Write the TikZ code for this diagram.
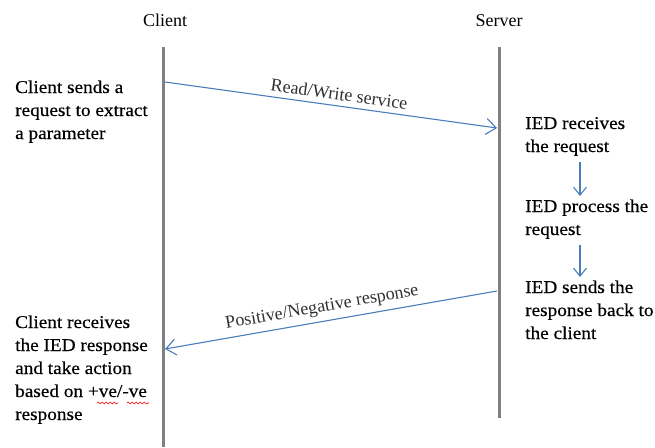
\documentclass[tikz,border=0pt]{standalone}
\usepackage{fontspec}
\setmainfont{Liberation Serif}
\newfontfamily\bodyfont[FakeStretch=1.07,FakeBold=0.4]{Liberation Serif}
\usetikzlibrary{arrows.meta,decorations.pathmorphing}
\definecolor{msgblue}{HTML}{4A7EBB}
\definecolor{lifegray}{HTML}{808080}
\definecolor{labelgray}{HTML}{303030}
\begin{document}
\begin{tikzpicture}[x=1pt,y=-1pt,
  lifeline/.style={draw=lifegray,line width=3pt},
  msg/.style={draw=msgblue,line width=1.1pt,-{Straight Barb[length=10pt,width=16pt,line width=1.1pt]}},
  stepflow/.style={draw=msgblue,line width=1.1pt,-{Straight Barb[length=8pt,width=13pt,line width=1.1pt]}},
  head/.style={anchor=base,inner sep=0pt,font=\fontsize{18}{22}\selectfont},
  body/.style={anchor=base west,align=left,inner sep=0pt,font=\bodyfont\fontsize{18}{23}\selectfont},
  msglabel/.style={sloped,above=5pt,inner sep=0pt,text=labelgray,font=\fontsize{18}{22}\selectfont},
  squiggle/.style={draw=red,line width=0.6pt,decorate,decoration={snake,amplitude=1pt,segment length=4pt}}]
\useasboundingbox (0,0) rectangle (655,447);
% headers
\node[head] (client) at (165,26) {Client};
\node[head] (server) at (499,26) {Server};
% lifelines
\coordinate (ctop) at (163,47);
\coordinate (cbot) at (163,447);
\coordinate (stop) at (499,47);
\coordinate (sbot) at (499,418);
\draw[lifeline] (ctop) -- (cbot);
\draw[lifeline] (stop) -- (sbot);
% messages
\coordinate (c1) at (165,82);
\coordinate (s1) at (497,128);
\coordinate (s2) at (497,291);
\coordinate (c2) at (165,349);
\draw[msg] (c1) -- node[msglabel,pos=0.52] (lab1) {Read/Write service} (s1);
\draw[msg] (s2) -- node[msglabel,pos=0.52] (lab2) {Positive/Negative response} (c2);
% left texts (anchored at the baseline of the last line)
\node[body] (t1) at (15,139) {Client sends a\\request to extract\\a parameter};
\node[body] (t2) at (15,420) {Client receives\\the IED response\\and take action\\based on +ve/-ve\\response};
% right texts
\node[body] (r1) at (525,152) {IED receives\\the request};
\node[body] (r2) at (525,235) {IED process the\\request};
\node[body] (r3) at (525,339) {IED sends the\\response back to\\the client};
% internal steps
\coordinate (a1s) at (580,162);
\coordinate (a1e) at (580,196);
\coordinate (a2s) at (580,245);
\coordinate (a2e) at (580,277);
\draw[stepflow] (a1s) -- (a1e);
\draw[stepflow] (a2s) -- (a2e);
% spell-check marks
\coordinate (q1s) at (97,403);
\coordinate (q1e) at (118,403);
\coordinate (q2s) at (127,403);
\coordinate (q2e) at (149,403);
\draw[squiggle] (q1s) -- (q1e);
\draw[squiggle] (q2s) -- (q2e);
\end{tikzpicture}
\end{document}
